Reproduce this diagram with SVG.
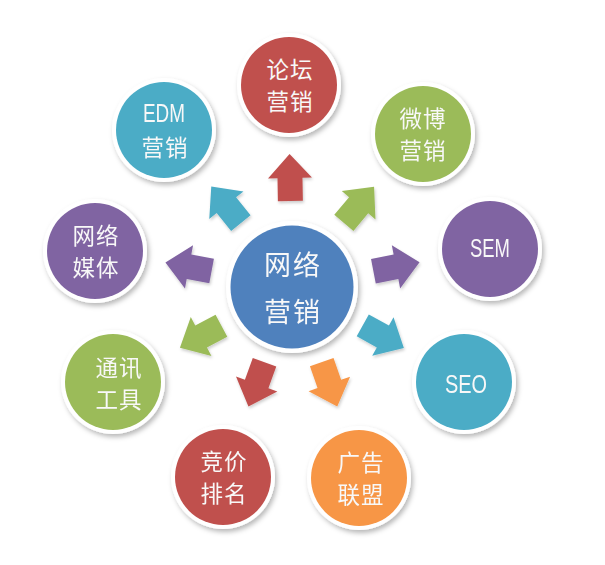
<svg xmlns="http://www.w3.org/2000/svg" width="605" height="565" viewBox="0 0 605 565">
<defs>
<filter id="sh" x="-20%" y="-20%" width="150%" height="150%">
<feDropShadow dx="2" dy="3" stdDeviation="2.5" flood-color="#000" flood-opacity="0.28"/>
</filter>
<filter id="ash" x="-30%" y="-30%" width="170%" height="170%">
<feDropShadow dx="1" dy="2" stdDeviation="1.5" flood-color="#000" flood-opacity="0.2"/>
</filter>
<polygon id="arr" points="-22,-12.5 1,-12.5 1,-22 25,0 1,22 1,12.5 -22,12.5"/>
</defs>
<style>
.ring{fill:#fff;filter:url(#sh)}
.cj{font-family:"Noto Sans CJK SC","Noto Sans",sans-serif;font-size:22.5px;fill:#f8f8f8;text-anchor:middle;dominant-baseline:central;letter-spacing:1px}
.lt{font-family:"Liberation Sans","Roboto",sans-serif;font-size:25px;fill:#f8f8f8;text-anchor:middle}
.big{font-size:27px;letter-spacing:2px}
.red{fill:#c0504d}.grn{fill:#9bbb59}.pur{fill:#8064a2}.teal{fill:#4bacc6}.org{fill:#f79646}.blu{fill:#4f81bd}
</style>
<rect width="605" height="565" fill="#fff"/>
<g id="connectors" filter="url(#ash)">
<use href="#arr" class="red" transform="translate(290,179) rotate(-91)"/>
<use href="#arr" class="teal" transform="translate(227,206) rotate(-129)"/>
<use href="#arr" class="grn" transform="translate(358,206) rotate(-50)"/>
<use href="#arr" class="pur" transform="translate(190,267) rotate(190.6)"/>
<use href="#arr" class="pur" transform="translate(395,267) rotate(-10.9)"/>
<use href="#arr" class="grn" transform="translate(202,336) rotate(152)"/>
<use href="#arr" class="teal" transform="translate(382,336) rotate(29)"/>
<use href="#arr" class="red" transform="translate(257,383) rotate(110)"/>
<use href="#arr" class="org" transform="translate(329,383) rotate(70.7)"/>
</g>
<g id="center">
<circle class="ring" cx="292" cy="287" r="66"/>
<circle class="blu" cx="292" cy="287" r="61.5"/>
<text class="cj big" x="293" y="263">网络</text>
<text class="cj big" x="293" y="310">营销</text>
</g>
<g id="luntan">
<circle class="ring" cx="289" cy="85" r="52"/>
<circle class="red" cx="289" cy="85" r="48"/>
<text class="cj" x="290" y="68">论坛</text>
<text class="cj" x="290" y="100">营销</text>
</g>
<g id="weibo">
<circle class="ring" cx="423" cy="134" r="52"/>
<circle class="grn" cx="423" cy="134" r="48"/>
<text class="cj" x="423" y="117">微博</text>
<text class="cj" x="423" y="149">营销</text>
</g>
<g id="sem">
<circle class="ring" cx="490" cy="249" r="52"/>
<circle class="pur" cx="490" cy="249" r="48"/>
<text class="lt" x="490" y="257" textLength="40" lengthAdjust="spacingAndGlyphs">SEM</text>
</g>
<g id="seo">
<circle class="ring" cx="464" cy="382" r="52"/>
<circle class="teal" cx="464" cy="382" r="48"/>
<text class="lt" x="466" y="393" textLength="42" lengthAdjust="spacingAndGlyphs">SEO</text>
</g>
<g id="guanggao">
<circle class="ring" cx="359" cy="478" r="52"/>
<circle class="org" cx="359" cy="478" r="48"/>
<text class="cj" x="361" y="461">广告</text>
<text class="cj" x="361" y="493">联盟</text>
</g>
<g id="jingjia">
<circle class="ring" cx="223" cy="477" r="52"/>
<circle class="red" cx="223" cy="477" r="48"/>
<text class="cj" x="224" y="460">竞价</text>
<text class="cj" x="224" y="492">排名</text>
</g>
<g id="tongxun">
<circle class="ring" cx="113" cy="382" r="52"/>
<circle class="grn" cx="113" cy="382" r="48"/>
<text class="cj" x="119" y="366">通讯</text>
<text class="cj" x="119" y="398">工具</text>
</g>
<g id="wangluomeiti">
<circle class="ring" cx="95" cy="251" r="52"/>
<circle class="pur" cx="95" cy="251" r="48"/>
<text class="cj" x="96" y="234">网络</text>
<text class="cj" x="96" y="266">媒体</text>
</g>
<g id="edm">
<circle class="ring" cx="164" cy="130" r="52"/>
<circle class="teal" cx="164" cy="130" r="48"/>
<text class="lt" x="164" y="122" textLength="42" lengthAdjust="spacingAndGlyphs">EDM</text>
<text class="cj" x="165" y="146">营销</text>
</g>
</svg>
